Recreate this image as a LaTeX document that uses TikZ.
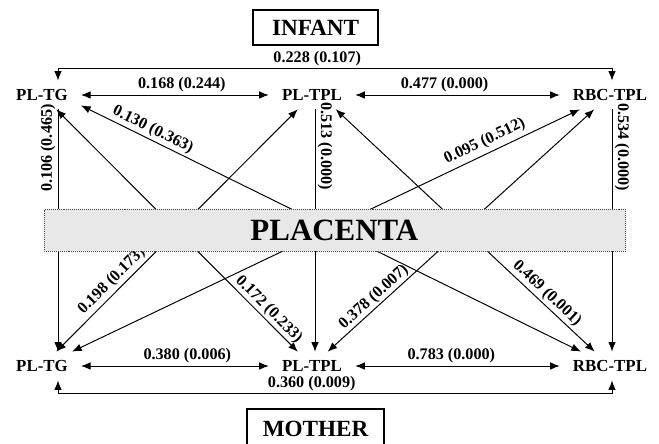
\documentclass[tikz,border=0pt]{standalone}
\usepackage{fontspec}
\setmainfont{Liberation Serif}
\usetikzlibrary{arrows.meta}

\begin{document}
\begin{tikzpicture}[
    font=\bfseries,
    meas/.style={font=\fontsize{12}{14}\selectfont\bfseries, inner xsep=9.2pt, inner ysep=6pt},
    grp/.style={draw, line width=0.9pt, font=\fontsize{16.5}{19}\selectfont\bfseries,
                minimum width=3.125cm, minimum height=0.875cm},
    placS/.style={draw=black!70, densely dotted, fill=black!9,
                  font=\fontsize{22}{26}\selectfont\bfseries,
                  minimum width=14.525cm, minimum height=1.05cm},
    arr/.style={-{Latex[length=2.4mm,width=1.9mm]}, line width=0.7pt},
    darr/.style={{Latex[length=2.4mm,width=1.9mm]}-{Latex[length=2.4mm,width=1.9mm]},
                 line width=0.7pt},
    lab/.style={font=\fontsize{11.5}{13}\selectfont\bfseries, inner sep=1.5pt},
    onl/.style={lab, sloped, above, inner sep=1pt}
]
    % infant row
    \node[meas] (itg)  at (1.05,8.7)  {PL-TG};
    \node[meas] (itpl) at (7.8,8.7)   {PL-TPL};
    \node[meas] (irbc) at (15.25,8.7) {RBC-TPL};

    % mother row
    \node[meas] (mtg)  at (1.05,1.925)  {PL-TG};
    \node[meas] (mtpl) at (7.8,1.925)   {PL-TPL};
    \node[meas] (mrbc) at (15.25,1.925) {RBC-TPL};

    \node[grp] (inf) at (7.89,10.39) {INFANT};
    \node[grp, minimum width=3.425cm, minimum height=0.975cm] (mot) at (7.89,0.36) {MOTHER};

    % within infant / within mother
    \draw[darr] (itg) -- node[lab,above,pos=0.537] {0.168 (0.244)} (itpl);
    \draw[darr] (itpl) -- node[lab,above,pos=0.437] {0.477 (0.000)} (irbc);
    \draw[darr] (mtg) -- node[lab,above,pos=0.566] {0.380 (0.006)} (mtpl);
    \draw[darr] (mtpl) -- node[lab,above,pos=0.47] {0.783 (0.000)} (mrbc);

    \draw[darr] ([xshift=4mm]itg.north) -- ++(0,0.3)
        -| node[lab,above,pos=0.234] {0.228 (0.107)} ([xshift=.5mm]irbc.north);
    \draw[darr] ([xshift=4mm]mtg.south) -- ++(0,-0.325)
        -| node[lab,above,pos=0.229] {0.360 (0.009)} ([xshift=.5mm]mrbc.south);

    % same measure, infant to mother
    \draw[arr] ([xshift=4mm]itg.south) --
        node[lab,rotate=90,anchor=south,pos=0.16] {0.106 (0.465)} ([xshift=4mm]mtg.north);
    \draw[arr] ([xshift=.75mm]itpl.south) --
        node[lab,rotate=-90,anchor=south,pos=0.152] {0.513 (0.000)} ([xshift=.75mm]mtpl.north);
    \draw[arr] ([xshift=.5mm]irbc.south) --
        node[lab,rotate=-90,anchor=south,pos=0.156] {0.534 (0.000)} ([xshift=.5mm]mrbc.north);

    % cross measures
    \draw[darr] (itg) -- node[onl,pos=0.853] {0.172 (0.233)} (mtpl);
    \draw[darr] (itg.-15) -- node[lab,sloped,above,pos=0.135] {0.130 (0.363)} (mrbc);
    \draw[darr] (itpl) -- node[lab,sloped,above,pos=0.739,inner sep=2pt] {0.198 (0.173)} (mtg);
    \draw[darr] (itpl.-31) -- node[lab,sloped,above,pos=0.79] {0.469 (0.001)} (mrbc);
    \draw[darr] (irbc) -- node[lab,sloped,above,pos=0.177,inner sep=3pt] {0.095 (0.512)} (mtg);
    \draw[darr] (irbc) -- node[onl,pos=0.803] {0.378 (0.007)} (mtpl);

    \node[placS] (plac) at (8.36,5.325) {PLACENTA};

    \pgfresetboundingbox
    \path[use as bounding box] (0,0) rectangle (16.475,11.075);
\end{tikzpicture}
\end{document}
